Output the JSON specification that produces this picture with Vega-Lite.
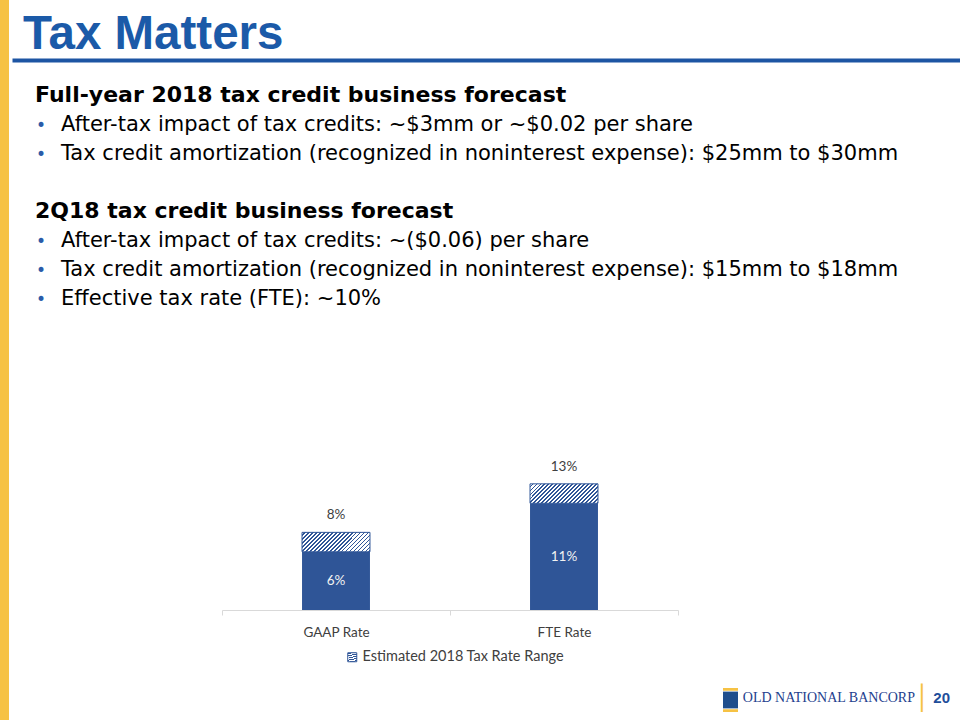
{
  "$schema": "https://vega.github.io/schema/vega-lite/v6.json",
  "background": "white",
  "padding": 0,
  "spacing": 3,
  "config": {
    "view": {"stroke": null}
  },
  "hconcat": [
    {
      "width": 9,
      "height": 720,
      "view": {"fill": "#F6C244", "stroke": null},
      "data": {"values": []},
      "mark": "rect",
      "encoding": {}
    },
    {
      "spacing": 14,
      "vconcat": [
        {
          "width": 948,
          "height": 60,
          "data": {"values": [{"title": "Tax Matters"}]},
          "mark": {"type": "text", "align": "left", "baseline": "alphabetic", "dy": 19, "font": "Liberation Sans", "fontSize": 47.5, "fontWeight": "bold", "color": "#1B5AA8"},
          "encoding": {
            "x": {
              "datum": 0,
              "type": "quantitative",
              "scale": {"domain": [-1, 85.2], "nice": false, "zero": false},
              "axis": {"orient": "bottom", "title": null, "labels": false, "ticks": false, "grid": false, "domain": true, "domainColor": "#1D55A3", "domainWidth": 4}
            },
            "text": {"field": "title", "type": "nominal"}
          }
        },
        {
          "width": 948,
          "height": 260,
          "data": {
            "values": [
              {"line": 0, "level": 0, "kind": "heading", "text": "Full-year 2018 tax credit business forecast"},
              {"line": 1, "level": 1, "kind": "bullet", "text": "After-tax impact of tax credits: ~$3mm or ~$0.02 per share"},
              {"line": 2, "level": 1, "kind": "bullet", "text": "Tax credit amortization (recognized in noninterest expense): $25mm to $30mm"},
              {"line": 4, "level": 0, "kind": "heading", "text": "2Q18 tax credit business forecast"},
              {"line": 5, "level": 1, "kind": "bullet", "text": "After-tax impact of tax credits: ~($0.06) per share"},
              {"line": 6, "level": 1, "kind": "bullet", "text": "Tax credit amortization (recognized in noninterest expense): $15mm to $18mm"},
              {"line": 7, "level": 1, "kind": "bullet", "text": "Effective tax rate (FTE): ~10%"}
            ]
          },
          "encoding": {
            "x": {
              "field": "level",
              "type": "quantitative",
              "scale": {"domain": [-0.885, 35.577], "nice": false, "zero": false},
              "axis": null
            },
            "y": {
              "field": "line",
              "type": "quantitative",
              "scale": {"domain": [-0.97, 8], "reverse": true, "nice": false, "zero": false},
              "axis": null
            },
            "text": {"field": "text", "type": "nominal"}
          },
          "layer": [
            {
              "transform": [{"filter": "datum.kind === 'bullet'"}],
              "mark": {"type": "text", "align": "center", "baseline": "alphabetic", "dx": -20, "font": "DejaVu Sans", "fontSize": 17, "color": "#2B5BA9"},
              "encoding": {"text": {"value": "•"}}
            },
            {
              "transform": [{"filter": "datum.kind === 'heading'"}],
              "mark": {"type": "text", "align": "left", "baseline": "alphabetic", "font": "DejaVu Sans", "fontSize": 22, "fontWeight": "bold", "color": "#000000"}
            },
            {
              "transform": [{"filter": "datum.kind === 'bullet'"}],
              "mark": {"type": "text", "align": "left", "baseline": "alphabetic", "font": "DejaVu Sans", "fontSize": 21, "color": "#000000"}
            }
          ]
        },
        {
          "spacing": 20,
          "hconcat": [
            {
              "width": 189,
              "height": 10,
              "data": {"values": []},
              "mark": "rect",
              "encoding": {}
            },
            {
              "width": 456,
              "height": 262,
              "data": {
                "values": [
                  {"category": "GAAP Rate", "base": 0.06, "high": 0.08, "range": "Estimated 2018 Tax Rate Range"},
                  {"category": "FTE Rate", "base": 0.11, "high": 0.13, "range": "Estimated 2018 Tax Rate Range"}
                ]
              },
              "encoding": {
                "x": {
                  "field": "category",
                  "type": "nominal",
                  "sort": null,
                  "scale": {"paddingInner": 0, "paddingOuter": 0},
                  "axis": {
                    "title": null,
                    "labelAngle": 0,
                    "domainColor": "#D9D9D9",
                    "tickColor": "#D9D9D9",
                    "tickSize": 5,
                    "tickBand": "extent",
                    "labelPadding": 10,
                    "labelFont": "Lato",
                    "labelFontSize": 13.5,
                    "labelColor": "#404040",
                    "grid": false
                  }
                }
              },
              "layer": [
                {
                  "mark": {"type": "bar", "width": {"band": 0.298}, "color": "#2F5597"},
                  "encoding": {
                    "y": {"field": "base", "type": "quantitative", "scale": {"domain": [0, 0.27], "nice": false}, "axis": null}
                  }
                },
                {
                  "mark": {
                    "type": "bar", "width": {"band": 0.298}, "strokeWidth": 1,
                    "fill": {
                      "gradient": "linear", "x1": 0, "y1": 0, "x2": 1.189, "y2": 0.339,
                      "stops": [
                        {"offset": 0, "color": "#FFFFFF"},
                        {"offset": 0.025, "color": "#FFFFFF"}, {"offset": 0.025, "color": "#2F5597"}, {"offset": 0.0455, "color": "#2F5597"}, {"offset": 0.0455, "color": "#FFFFFF"},
                        {"offset": 0.0705, "color": "#FFFFFF"}, {"offset": 0.0705, "color": "#2F5597"}, {"offset": 0.0909, "color": "#2F5597"}, {"offset": 0.0909, "color": "#FFFFFF"},
                        {"offset": 0.1159, "color": "#FFFFFF"}, {"offset": 0.1159, "color": "#2F5597"}, {"offset": 0.1364, "color": "#2F5597"}, {"offset": 0.1364, "color": "#FFFFFF"},
                        {"offset": 0.1614, "color": "#FFFFFF"}, {"offset": 0.1614, "color": "#2F5597"}, {"offset": 0.1818, "color": "#2F5597"}, {"offset": 0.1818, "color": "#FFFFFF"},
                        {"offset": 0.2068, "color": "#FFFFFF"}, {"offset": 0.2068, "color": "#2F5597"}, {"offset": 0.2273, "color": "#2F5597"}, {"offset": 0.2273, "color": "#FFFFFF"},
                        {"offset": 0.2523, "color": "#FFFFFF"}, {"offset": 0.2523, "color": "#2F5597"}, {"offset": 0.2727, "color": "#2F5597"}, {"offset": 0.2727, "color": "#FFFFFF"},
                        {"offset": 0.2977, "color": "#FFFFFF"}, {"offset": 0.2977, "color": "#2F5597"}, {"offset": 0.3182, "color": "#2F5597"}, {"offset": 0.3182, "color": "#FFFFFF"},
                        {"offset": 0.3432, "color": "#FFFFFF"}, {"offset": 0.3432, "color": "#2F5597"}, {"offset": 0.3636, "color": "#2F5597"}, {"offset": 0.3636, "color": "#FFFFFF"},
                        {"offset": 0.3886, "color": "#FFFFFF"}, {"offset": 0.3886, "color": "#2F5597"}, {"offset": 0.4091, "color": "#2F5597"}, {"offset": 0.4091, "color": "#FFFFFF"},
                        {"offset": 0.4341, "color": "#FFFFFF"}, {"offset": 0.4341, "color": "#2F5597"}, {"offset": 0.4545, "color": "#2F5597"}, {"offset": 0.4545, "color": "#FFFFFF"},
                        {"offset": 0.4795, "color": "#FFFFFF"}, {"offset": 0.4795, "color": "#2F5597"}, {"offset": 0.5, "color": "#2F5597"}, {"offset": 0.5, "color": "#FFFFFF"},
                        {"offset": 0.525, "color": "#FFFFFF"}, {"offset": 0.525, "color": "#2F5597"}, {"offset": 0.5455, "color": "#2F5597"}, {"offset": 0.5455, "color": "#FFFFFF"},
                        {"offset": 0.5705, "color": "#FFFFFF"}, {"offset": 0.5705, "color": "#2F5597"}, {"offset": 0.5909, "color": "#2F5597"}, {"offset": 0.5909, "color": "#FFFFFF"},
                        {"offset": 0.6159, "color": "#FFFFFF"}, {"offset": 0.6159, "color": "#2F5597"}, {"offset": 0.6364, "color": "#2F5597"}, {"offset": 0.6364, "color": "#FFFFFF"},
                        {"offset": 0.6614, "color": "#FFFFFF"}, {"offset": 0.6614, "color": "#2F5597"}, {"offset": 0.6818, "color": "#2F5597"}, {"offset": 0.6818, "color": "#FFFFFF"},
                        {"offset": 0.7068, "color": "#FFFFFF"}, {"offset": 0.7068, "color": "#2F5597"}, {"offset": 0.7273, "color": "#2F5597"}, {"offset": 0.7273, "color": "#FFFFFF"},
                        {"offset": 0.7523, "color": "#FFFFFF"}, {"offset": 0.7523, "color": "#2F5597"}, {"offset": 0.7727, "color": "#2F5597"}, {"offset": 0.7727, "color": "#FFFFFF"},
                        {"offset": 0.7977, "color": "#FFFFFF"}, {"offset": 0.7977, "color": "#2F5597"}, {"offset": 0.8182, "color": "#2F5597"}, {"offset": 0.8182, "color": "#FFFFFF"},
                        {"offset": 0.8432, "color": "#FFFFFF"}, {"offset": 0.8432, "color": "#2F5597"}, {"offset": 0.8636, "color": "#2F5597"}, {"offset": 0.8636, "color": "#FFFFFF"},
                        {"offset": 0.8886, "color": "#FFFFFF"}, {"offset": 0.8886, "color": "#2F5597"}, {"offset": 0.9091, "color": "#2F5597"}, {"offset": 0.9091, "color": "#FFFFFF"},
                        {"offset": 0.9341, "color": "#FFFFFF"}, {"offset": 0.9341, "color": "#2F5597"}, {"offset": 0.9545, "color": "#2F5597"}, {"offset": 0.9545, "color": "#FFFFFF"},
                        {"offset": 0.9795, "color": "#FFFFFF"}, {"offset": 0.9795, "color": "#2F5597"}, {"offset": 1, "color": "#2F5597"}
                      ]
                    }
                  },
                  "encoding": {
                    "y": {"field": "base", "type": "quantitative", "scale": {"domain": [0, 0.27], "nice": false}, "axis": null},
                    "y2": {"field": "high"},
                    "stroke": {
                      "field": "range",
                      "type": "nominal",
                      "scale": {"range": ["#2F5597"]},
                      "legend": {
                        "title": null,
                        "orient": "none",
                        "legendX": 345,
                        "legendY": 650,
                        "direction": "horizontal",
                        "symbolType": "square",
                        "symbolSize": 81,
                        "symbolStrokeWidth": 1,
                        "labelOffset": 3,
                        "labelLimit": 400,
                        "labelFont": "Lato",
                        "labelFontSize": 14.5,
                        "labelColor": "#404040",
                        "encode": {
                          "symbols": {
                            "update": {
                              "fill": {
                                "value": {
                                  "gradient": "linear", "x1": 0, "y1": 0, "x2": 1, "y2": 1,
                                  "stops": [
                                    {"offset": 0, "color": "#FFFFFF"},
                                    {"offset": 0.14, "color": "#FFFFFF"}, {"offset": 0.14, "color": "#2F5597"}, {"offset": 0.25, "color": "#2F5597"}, {"offset": 0.25, "color": "#FFFFFF"},
                                    {"offset": 0.39, "color": "#FFFFFF"}, {"offset": 0.39, "color": "#2F5597"}, {"offset": 0.5, "color": "#2F5597"}, {"offset": 0.5, "color": "#FFFFFF"},
                                    {"offset": 0.64, "color": "#FFFFFF"}, {"offset": 0.64, "color": "#2F5597"}, {"offset": 0.75, "color": "#2F5597"}, {"offset": 0.75, "color": "#FFFFFF"},
                                    {"offset": 0.89, "color": "#FFFFFF"}, {"offset": 0.89, "color": "#2F5597"}, {"offset": 1, "color": "#2F5597"}
                                  ]
                                }
                              },
                              "opacity": {"value": 1}
                            }
                          }
                        }
                      }
                    }
                  }
                },
                {
                  "mark": {"type": "text", "baseline": "middle", "dy": -17, "font": "Lato", "fontSize": 13.5, "color": "#404040"},
                  "encoding": {
                    "y": {"field": "high", "type": "quantitative", "scale": {"domain": [0, 0.27], "nice": false}, "axis": null},
                    "text": {"field": "high", "type": "quantitative", "format": ".0%"}
                  }
                },
                {
                  "mark": {"type": "text", "baseline": "middle", "font": "Lato", "fontSize": 13.5, "color": "#F2F2F2"},
                  "encoding": {
                    "y": {"field": "base", "type": "quantitative", "scale": {"domain": [0, 0.54], "nice": false}, "axis": null},
                    "text": {"field": "base", "type": "quantitative", "format": ".0%"}
                  }
                }
              ],
              "resolve": {"scale": {"y": "independent"}}
            }
          ]
        },
        {
          "width": 948,
          "height": 60,
          "data": {"values": [{"brand": "OLD NATIONAL BANCORP", "page": "20"}]},
          "encoding": {"x": {"value": "width"}, "y": {"value": "height"}},
          "layer": [
            {
              "mark": {"type": "point", "filled": true, "opacity": 1, "strokeWidth": 0, "size": 576, "xOffset": -229.5, "yOffset": -13, "color": "#F6C244",
                       "shape": "M-0.625,-1L0.625,-1L0.625,-0.78L-0.625,-0.78Z M-0.625,0.78L0.625,0.78L0.625,1L-0.625,1Z"}
            },
            {
              "mark": {"type": "point", "filled": true, "opacity": 1, "strokeWidth": 0, "size": 576, "xOffset": -229.5, "yOffset": -13, "color": "#1F4E8C",
                       "shape": "M-0.625,-0.7L0.625,-0.7L0.625,0.7L-0.625,0.7Z"}
            },
            {
              "mark": {"type": "text", "align": "right", "baseline": "middle", "dx": -45, "dy": -15, "font": "Liberation Serif", "fontSize": 14, "color": "#23408E"},
              "encoding": {"text": {"field": "brand", "type": "nominal"}}
            },
            {
              "mark": {"type": "text", "align": "center", "baseline": "middle", "dx": -38, "dy": -14, "font": "DejaVu Sans", "fontSize": 24, "color": "#F6C244", "text": "│"}
            },
            {
              "mark": {"type": "text", "align": "right", "baseline": "middle", "dx": -10, "dy": -15, "font": "Liberation Sans", "fontSize": 15, "fontWeight": "bold", "color": "#1F4E9A"},
              "encoding": {"text": {"field": "page", "type": "nominal"}}
            }
          ]
        }
      ]
    }
  ]
}
